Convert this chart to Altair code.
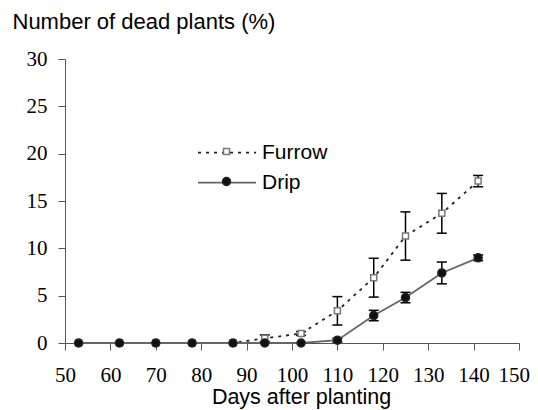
import altair as alt
import pandas as pd

days = [53, 62, 70, 78, 87, 94, 102, 110, 118, 125, 133, 141]
furrow = [0, 0, 0, 0, 0, 0.5, 1.0, 3.4, 6.9, 11.3, 13.7, 17.1]
furrow_err = [0, 0, 0, 0, 0, 0.35, 0.2, 1.5, 2.05, 2.55, 2.1, 0.6]
drip = [0, 0, 0, 0, 0, 0, 0, 0.3, 2.9, 4.8, 7.4, 9.0]
drip_err = [0, 0, 0, 0, 0, 0, 0, 0.2, 0.55, 0.55, 1.15, 0.3]
methods = ["Furrow", "Drip"]
markers = ["Furrow marker", "Drip marker"]
x_ticks = list(range(50, 151, 10))
y_ticks = list(range(0, 31, 5))

rows = []
for name, mk, vals, errs in [("Furrow", markers[0], furrow, furrow_err),
                             ("Drip", markers[1], drip, drip_err)]:
    for d, v, e in zip(days, vals, errs):
        rows.append({"Day": d, "Value": v, "Err": e, "Lo": v - e, "Hi": v + e,
                     "Method": name, "Marker": mk})
df = pd.DataFrame(rows)

SANS = "Liberation Sans"
SERIF = "Liberation Serif"
AXC = "#555555"

x_enc = alt.X("Day:Q",
              scale=alt.Scale(domain=[50, 150], nice=False, zero=False),
              axis=alt.Axis(values=x_ticks, title="Days after planting",
                            labelFont=SERIF, labelFontSize=21, labelColor="black",
                            labelBaseline="alphabetic", labelPadding=31,
                            labelOverlap=False, labelFlush=True, labelFlushOffset=10.5,
                            tickSize=7, tickColor=AXC, domainColor=AXC, grid=False,
                            titleFont=SANS, titleFontSize=21.5, titleFontWeight="normal",
                            titleColor="black", titleX=236, titleY=60,
                            titleBaseline="alphabetic", titleAlign="center"))
y_enc = alt.Y("Value:Q",
              scale=alt.Scale(domain=[0, 30], nice=False),
              axis=alt.Axis(values=y_ticks, title="Number of dead plants (%)",
                            labelFont=SERIF, labelFontSize=21, labelColor="black",
                            labelPadding=11, labelOverlap=False, labelFlush=False,
                            tickSize=7, tickColor=AXC,
                            domainColor=AXC, grid=False,
                            titleFont=SANS, titleFontSize=22, titleFontWeight="normal",
                            titleColor="black", titleAngle=0, titleAlign="left",
                            titleBaseline="alphabetic", titleX=-53, titleY=-31))

base = alt.Chart(df)
errd = base.transform_filter("datum.Err > 0")

rules = errd.mark_rule(color="black", strokeWidth=1.5).encode(
    x="Day:Q", y="Lo:Q", y2="Hi:Q")
cap_lo = errd.mark_tick(orient="horizontal", size=10, thickness=1.5, color="black",
                        opacity=1).encode(x="Day:Q", y="Lo:Q")
cap_hi = errd.mark_tick(orient="horizontal", size=10, thickness=1.5, color="black",
                        opacity=1).encode(x="Day:Q", y="Hi:Q")

leg_common = dict(title=None, orient="none", symbolType="stroke", symbolSize=3364,
                  symbolStrokeWidth=1.8, labelFont=SANS, labelFontSize=21,
                  labelColor="black", labelOffset=5, padding=0)
legF = alt.Legend(legendX=132, legendY=63.7, symbolStrokeColor="#222222",
                  symbolDash=[3, 5], **leg_common)
legD = alt.Legend(legendX=132, legendY=93.7, **leg_common)
legP = alt.Legend(title=None, orient="none", legendX=151, legendY=82,
                  labelExpr="''", labelFontSize=21,
                  rowPadding=8, padding=0, symbolStrokeWidth=1.5)

furrow_line = base.transform_filter(alt.datum.Method == "Furrow").mark_line(
    stroke="#222222", strokeWidth=1.8).encode(
    x=x_enc, y=y_enc,
    strokeDash=alt.StrokeDash("Method:N", scale=alt.Scale(domain=["Furrow"], range=[[3, 5]]),
                              legend=legF),
)
drip_line = base.transform_filter(alt.datum.Method == "Drip").mark_line(
    strokeWidth=1.8).encode(
    x="Day:Q", y="Value:Q",
    stroke=alt.Stroke("Method:N", scale=alt.Scale(domain=["Drip"], range=["#666666"]),
                      legend=legD),
)

points = base.mark_point(filled=False, opacity=1, strokeWidth=1.5).encode(
    x="Day:Q", y="Value:Q",
    color=alt.Color("Marker:N", scale=alt.Scale(domain=markers, range=["#777777", "#222222"]),
                    legend=legP),
    fill=alt.Fill("Marker:N", scale=alt.Scale(domain=markers, range=["white", "#111111"]),
                  legend=legP),
    shape=alt.Shape("Marker:N", scale=alt.Scale(domain=markers, range=["square", "circle"]),
                    legend=legP),
    size=alt.Size("Marker:N", scale=alt.Scale(domain=markers, range=[36, 64]), legend=legP),
)

chart = alt.layer(rules, cap_lo, cap_hi, furrow_line, drip_line, points).properties(
    width=454, height=284,
    autosize=alt.AutoSizeParams(type="none"),
    padding={"left": 57, "top": 51, "right": 11, "bottom": 66},
    background="white",
).configure_view(stroke=None)

chart.save("out.html", embed_options={"renderer": "svg", "actions": False})
